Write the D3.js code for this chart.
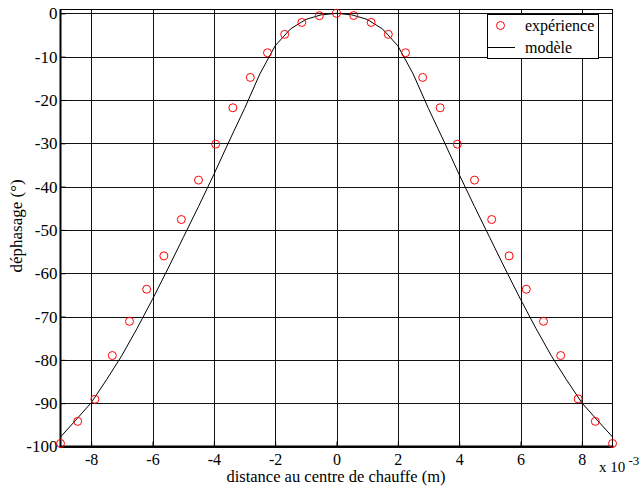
<!DOCTYPE html>
<html>
<head>
<meta charset="utf-8">
<script src="https://cdn.jsdelivr.net/npm/d3@7"></script>
<style>
  body { margin: 0; background: #fff; }
</style>
</head>
<body>
<svg id="chart" width="640" height="486"></svg>
<script>
// measured points (x in 1e-3 m, phase in degrees)
var expX = [-9, -8.44, -7.88, -7.31, -6.75, -6.19, -5.63, -5.06, -4.5, -3.94, -3.38, -2.81, -2.25, -1.69, -1.13, -0.56, 0,
            0.56, 1.13, 1.69, 2.25, 2.81, 3.38, 3.94, 4.5, 5.06, 5.63, 6.19, 6.75, 7.31, 7.88, 8.44, 9];
var expY = [-99.3, -94.2, -89.1, -79.0, -71.1, -63.7, -56.0, -47.6, -38.5, -30.2, -21.8, -14.8, -9.1, -4.85, -2.1, -0.55, 0,
            -0.5, -2.1, -4.85, -9.1, -14.8, -21.8, -30.2, -38.5, -47.6, -56.0, -63.7, -71.1, -79.0, -89.0, -94.2, -99.3];

// model curve
var modX = [-9, -8.5, -8, -7.5, -7, -6.5, -6, -5.5, -5, -4.5, -4, -3.5, -3, -2.5, -2, -1.5, -1, -0.5, 0,
            0.5, 1, 1.5, 2, 2.5, 3, 3.5, 4, 4.5, 5, 5.5, 6, 6.5, 7, 7.5, 8, 8.5, 9];
var modY = [-97.8, -93.9, -89.9, -84.6, -79.0, -72.7, -66.0, -59.0, -51.8, -44.6, -37.2, -29.5, -22.0, -14.0, -7.5, -3.6, -1.4, -0.35, 0,
            -0.35, -1.4, -3.6, -7.5, -14.0, -22.0, -29.5, -37.2, -44.6, -51.8, -59.0, -66.0, -72.7, -79.0, -84.6, -89.9, -93.9, -97.8];

var xTicks = [-8, -6, -4, -2, 0, 2, 4, 6, 8];
var yTicks = [0, -10, -20, -30, -40, -50, -60, -70, -80, -90, -100];

(function () {
  var svg = d3.select("#chart");
  var serif = "'Liberation Serif', 'Times New Roman', Times, 'DejaVu Serif', serif";
  var pl = 60.5, pr = 612.5, pt = 9, pb = 446.5;

  var x = d3.scaleLinear().domain([-9, 9]).range([pl, pr]);
  var y = d3.scaleLinear().domain([-100, 1]).range([pb, pt]);
  var fmt = function(d) { return String(d); }; // plain hyphen minus

  // grid
  var grid = svg.append("g").attr("shape-rendering", "crispEdges");
  grid.selectAll(".gx").data(xTicks).enter().append("line")
    .attr("x1", function(d) { return Math.round(x(d)) + 0.5; }).attr("x2", function(d) { return Math.round(x(d)) + 0.5; })
    .attr("y1", pt).attr("y2", pb)
    .attr("stroke", "#111").attr("stroke-width", 1);
  grid.selectAll(".gy").data(yTicks).enter().append("line")
    .attr("x1", pl).attr("x2", pr)
    .attr("y1", function(d) { return Math.round(y(d)) + 0.5; }).attr("y2", function(d) { return Math.round(y(d)) + 0.5; })
    .attr("stroke", "#111").attr("stroke-width", 1);

  // axes
  var xAxis = d3.axisBottom(x).tickValues(xTicks).tickSize(-5).tickPadding(12).tickFormat(fmt);
  var yAxis = d3.axisLeft(y).tickValues(yTicks).tickSize(-5).tickPadding(8).tickFormat(fmt);

  var gx = svg.append("g").attr("transform", "translate(0," + pb + ")").call(xAxis);
  var gy = svg.append("g").attr("transform", "translate(" + pl + ",0)").call(yAxis);
  [gx, gy].forEach(function(g) {
    g.attr("font-family", serif).attr("font-size", 17);
    g.select(".domain").remove();
    g.selectAll("line").attr("stroke", "#000");
    g.selectAll("text").style("font-family", serif).attr("font-size", 17).attr("fill", "#000");
  });
  gx.selectAll("text").attr("dy", null).attr("y", 18).attr("font-size", 16);
  gy.selectAll("text").attr("x", -3);

  // frame
  svg.append("rect")
    .attr("x", pl).attr("y", pt)
    .attr("width", pr - pl).attr("height", pb - pt)
    .attr("fill", "none").attr("stroke", "#000").attr("stroke-width", 1)
    .attr("shape-rendering", "crispEdges");
  svg.append("line").attr("x1", pl).attr("x2", pl).attr("y1", pt).attr("y2", pb + 1)
    .attr("stroke", "#000").attr("stroke-width", 2);
  svg.append("line").attr("x1", pl - 1).attr("x2", pr + 1).attr("y1", pb).attr("y2", pb)
    .attr("stroke", "#000").attr("stroke-width", 2);

  // model line
  var line = d3.line()
    .x(function(d, i) { return x(modX[i]); })
    .y(function(d) { return y(d); });
  svg.append("path").datum(modY)
    .attr("d", line)
    .attr("fill", "none").attr("stroke", "#000").attr("stroke-width", 1);

  // experimental circles
  svg.append("g").selectAll("circle").data(expY).enter().append("circle")
    .attr("cx", function(d, i) { return x(expX[i]); })
    .attr("cy", function(d) { return y(d); })
    .attr("r", 4)
    .attr("fill", "none").attr("stroke", "#ff0000").attr("stroke-width", 1);

  function label(sel) { return sel.style("font-family", serif).attr("fill", "#000"); }

  // axis labels
  svg.append("text").attr("x", 336).attr("y", 481.5)
    .attr("text-anchor", "middle").attr("font-size", 16.5).call(label)
    .text("distance au centre de chauffe (m)");
  svg.append("text")
    .attr("transform", "translate(22,226) rotate(-90)")
    .attr("text-anchor", "middle").attr("font-size", 17).call(label)
    .text("déphasage (°)");

  // exponent
  var ex = svg.append("text").attr("x", 599).attr("y", 472).attr("font-size", 15).call(label);
  ex.append("tspan").text("x 10");
  ex.append("tspan").attr("dy", -7).attr("font-size", 13).text(" -3");

  // legend
  var lg = svg.append("g");
  lg.append("rect").attr("x", 487.5).attr("y", 14.5).attr("width", 111).attr("height", 44)
    .attr("fill", "#fff").attr("stroke", "#000").attr("stroke-width", 1);
  lg.append("circle").attr("cx", 500.5).attr("cy", 25.5).attr("r", 4)
    .attr("fill", "none").attr("stroke", "#ff0000");
  lg.append("line").attr("x1", 488).attr("x2", 515).attr("y1", 47.5).attr("y2", 47.5)
    .attr("stroke", "#000");
  lg.append("text").attr("x", 525).attr("y", 31).attr("font-size", 16).call(label).text("expérience");
  lg.append("text").attr("x", 525).attr("y", 53).attr("font-size", 16).call(label).text("modèle");
})();
</script>
</body>
</html>
